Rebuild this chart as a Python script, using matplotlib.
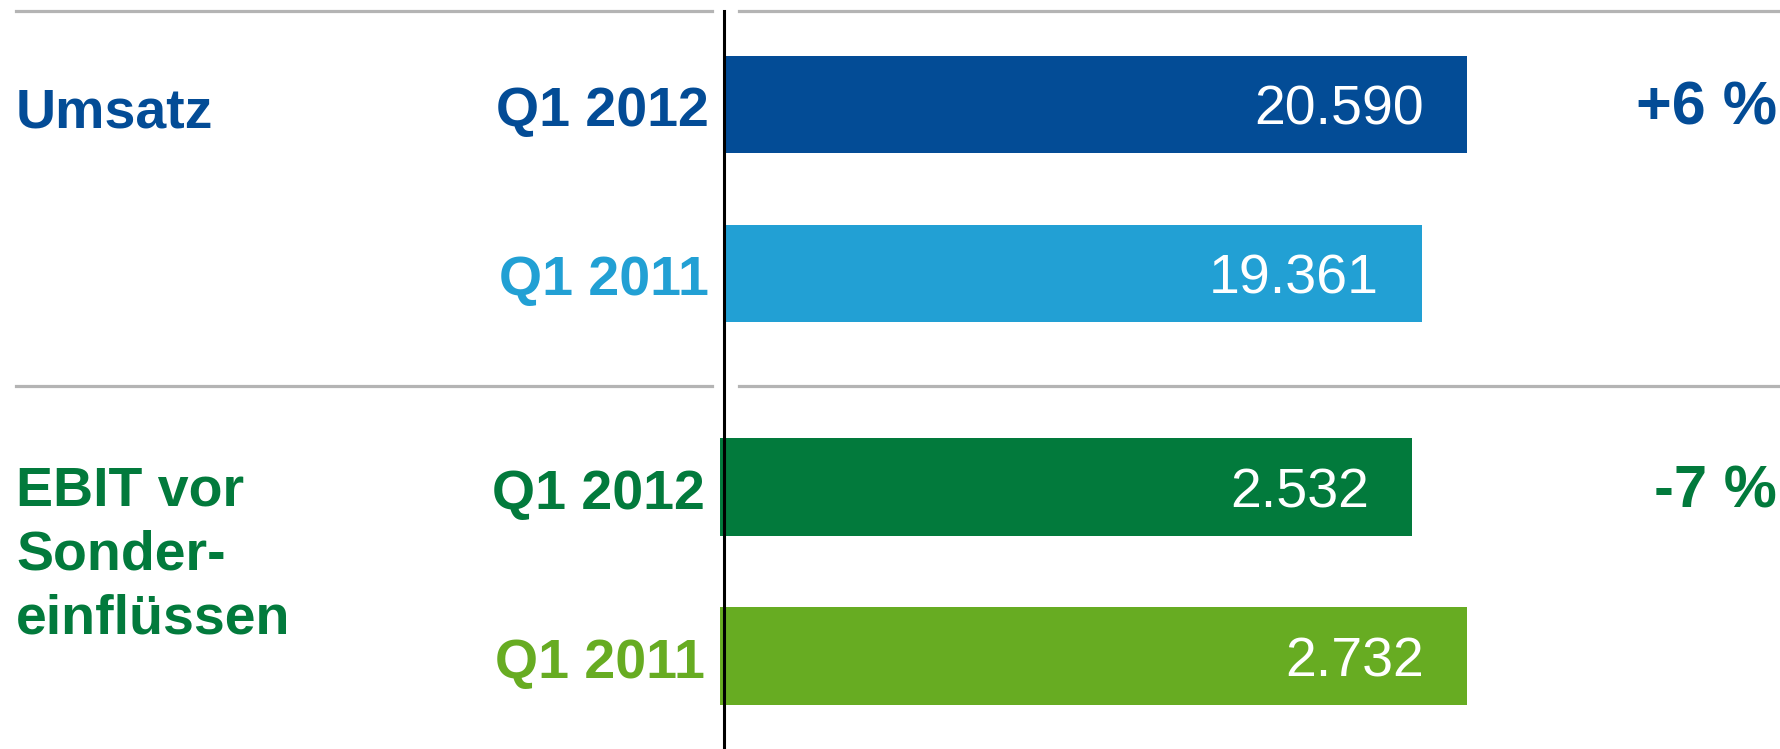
import matplotlib
matplotlib.use('Agg')
import matplotlib.pyplot as plt
from matplotlib.lines import Line2D

plt.rcParams['font.family'] = ['Liberation Sans', 'DejaVu Sans']

# data
groups = ['Umsatz', 'EBIT vor\nSonder-\neinflüssen']
periods = ['Q1 2012', 'Q1 2011']
umsatz = [20590, 19361]
ebit = [2532, 2732]
umsatz_labels = ['20.590', '19.361']
ebit_labels = ['2.532', '2.732']
changes = ['+6 %', '-7 %']

blue_dark = '#034C96'
blue_light = '#22A0D4'
green_dark = '#027A3C'
green_light = '#67AC22'
grey = '#B4B4B4'

W, H = 1781, 749
fig = plt.figure(figsize=(W / 100, H / 100), dpi=100)


def px_axes(left, top, right, bottom):
    return fig.add_axes([left / W, 1 - bottom / H, (right - left) / W, (bottom - top) / H])


def fig_line(x0, x1, y0, y1, **kw):
    fig.add_artist(Line2D([x0 / W, x1 / W], [1 - y0 / H, 1 - y1 / H],
                          transform=fig.transFigure, **kw))


def panel(ax, values, labels, colors, change, xmax, ylim, height, pct_size):
    ypos = [1, 0]
    ax.barh(ypos, values, height=height, color=colors, left=0)
    ax.set_xlim(0, xmax)
    ax.set_ylim(*ylim)
    ax.axis('off')
    for y, v, lab, per, c in zip(ypos, values, labels, periods, colors):
        ax.annotate(lab, xy=(v, y), xytext=(-43, -20), textcoords='offset pixels',
                    ha='right', va='baseline', color='white', fontsize=40)
        ax.annotate(per, xy=(0, y), xycoords=('axes fraction', 'data'),
                    xytext=(-15, -22), textcoords='offset pixels',
                    ha='right', va='baseline', color=c, fontsize=40, fontweight='bold',
                    annotation_clip=False)
    ax.annotate(change, xy=(1, 1), xycoords=('axes fraction', 'data'),
                xytext=(-4, -20), textcoords='offset pixels',
                ha='right', va='baseline', color=colors[0], fontsize=pct_size,
                fontweight='bold', annotation_clip=False)


ax1 = px_axes(724, 11, W, 386)
panel(ax1, umsatz, umsatz_labels, [blue_dark, blue_light], changes[0],
      20590 * 1057 / 742.5, (-0.666, 1.553), 0.578, 44)

ax2 = px_axes(720, 386, W, H)
panel(ax2, ebit, ebit_labels, [green_dark, green_light], changes[1],
      2732 * 1061 / 747, (-0.548, 1.6), 0.58, 43)

# group titles
fig.text(16 / W, 1 - 127 / H, groups[0], ha='left', va='baseline',
         color=blue_dark, fontsize=40, fontweight='bold')
fig.text(16 / W, 1 - 633 / H, groups[1], ha='left', va='baseline',
         color=green_dark, fontsize=40, fontweight='bold', linespacing=1.29)

# separators and axis line
for y in (11, 386):
    fig_line(16, 712, y, y, color=grey, lw=2.3)
    fig_line(739, W, y, y, color=grey, lw=2.3)
fig_line(724, 724, 11, H, color='black', lw=2.2)

fig.savefig('out.png', dpi=100, facecolor='white')
